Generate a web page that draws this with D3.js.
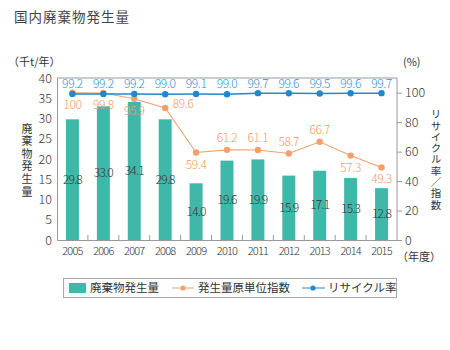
<!DOCTYPE html>
<html><head><meta charset="utf-8">
<script src="https://cdn.jsdelivr.net/npm/d3@7"></script>
<style>body{margin:0;background:#fff}svg{display:block}text{font-family:"Noto Sans CJK JP","Noto Sans",sans-serif}
.vt{writing-mode:vertical-rl;text-orientation:upright}</style>
</head><body>
<script>
const years = ["2005","2006","2007","2008","2009","2010","2011","2012","2013","2014","2015"];
const waste = [29.8,33.0,34.1,29.8,14.0,19.6,19.9,15.9,17.1,15.3,12.8];
const indexVals = [100,99.8,95.9,89.6,59.4,61.2,61.1,58.7,66.7,57.3,49.3];
const recycle = [99.2,99.2,99.2,99.0,99.1,99.0,99.7,99.6,99.5,99.6,99.7];
const leftTicks = [0,5,10,15,20,25,30,35,40];
const rightTicks = [0,20,40,60,80,100];
// label placement for index: "b" below, "a" above, "r" right
const indexPos = ["b","b","b","r","b","a","a","a","a","b","b"];

const W=450,H=350;
const svg=d3.select("body").append("svg").attr("width",W).attr("height",H);
const L=57,R=397,T=78,B=240;
const x=d3.scaleBand().domain(years).range([L,R]).paddingInner(0.58).paddingOuter(0.29);
const yL=d3.scaleLinear().domain([0,40]).range([B,T]);
const yR=d3.scaleLinear().domain([0,110]).range([B,T]);
const cx=d=>x(d)+x.bandwidth()/2;
const axisCol="#999", txtCol="#333";
const teal="#40b8a9", orange="#f4a06c", blue="#1e88d2";
const numFont="'Open Sans',sans-serif";

svg.append("text").attr("x",14).attr("y",22).attr("font-size",13.5).attr("fill","#444").attr("letter-spacing",1).text("国内廃棄物発生量");

// frame
svg.append("line").attr("x1",L).attr("x2",R).attr("y1",T).attr("y2",T).attr("stroke",axisCol);
// bars
svg.selectAll("rect.bar").data(years).join("rect").attr("class","bar")
  .attr("x",d=>x(d)).attr("width",x.bandwidth())
  .attr("y",(d,i)=>yL(waste[i])).attr("height",(d,i)=>B-yL(waste[i])).attr("fill",teal);
// bar labels
svg.selectAll("text.bl").data(years).join("text").attr("class","bl")
  .attr("x",d=>cx(d)).attr("y",(d,i)=>(yL(waste[i])+B)/2+4).attr("text-anchor","middle")
  .attr("font-size",12).attr("fill","#333").attr("letter-spacing",-0.8).attr("font-family",numFont).attr("font-weight",300)
  .text((d,i)=>waste[i].toFixed(1));

// left axis
const ax=svg.append("g").attr("transform",`translate(${L},0)`).call(d3.axisLeft(yL).tickValues(leftTicks).tickSize(0).tickPadding(5));
ax.select(".domain").attr("stroke",axisCol);
ax.selectAll("text").attr("font-size",12.5).attr("fill",txtCol).attr("font-family",numFont).attr("font-weight",300);
// right axis
const ar=svg.append("g").attr("transform",`translate(${R},0)`).call(d3.axisRight(yR).tickValues(rightTicks).tickSize(5).tickPadding(3));
ar.select(".domain").attr("stroke",axisCol).attr("d",`M0,${B}V${T}`);
ar.selectAll(".tick line").attr("stroke",axisCol);
ar.selectAll("text").attr("font-size",12.5).attr("fill",txtCol).attr("font-family",numFont).attr("font-weight",300);
// x axis
const axb=svg.append("g").attr("transform",`translate(0,${B})`).call(d3.axisBottom(x).tickSize(0).tickPadding(7));
axb.select(".domain").attr("stroke",axisCol);
axb.selectAll("text").attr("font-size",11).attr("fill",txtCol).attr("letter-spacing",-0.8).attr("font-family",numFont).attr("font-weight",300);
// x separators
const seps=years.slice(1).map((d)=>x(d)-x.step()*x.paddingInner()/2);
svg.selectAll("line.sep").data(seps).join("line").attr("class","sep")
  .attr("x1",d=>d).attr("x2",d=>d).attr("y1",B-5).attr("y2",B).attr("stroke",axisCol);

// index line
const line=(arr)=>d3.line().x((d,i)=>cx(years[i])).y(d=>yR(d))(arr);
svg.append("path").attr("d",line(indexVals)).attr("fill","none").attr("stroke",orange).attr("stroke-width",1.1);
svg.selectAll("circle.io").data(indexVals).join("circle").attr("cx",(d,i)=>cx(years[i])).attr("cy",d=>yR(d)).attr("r",3.2).attr("fill",orange);
// recycle line
svg.append("path").attr("d",line(recycle)).attr("fill","none").attr("stroke",blue).attr("stroke-width",1.5);
svg.selectAll("circle.rc").data(recycle).join("circle").attr("cx",(d,i)=>cx(years[i])).attr("cy",d=>yR(d)).attr("r",3.2).attr("fill",blue);

// recycle labels
svg.selectAll("text.rl").data(recycle).join("text").attr("class","rl")
  .attr("x",(d,i)=>cx(years[i])).attr("y",88).attr("text-anchor","middle")
  .attr("font-size",12).attr("fill","#2b93d8").attr("letter-spacing",-0.4).attr("font-family",numFont).attr("font-weight",300)
  .text(d=>d.toFixed(1));
// index labels
svg.selectAll("text.il").data(indexVals).join("text").attr("class","il")
  .attr("x",(d,i)=>cx(years[i])+(indexPos[i]==="r"?18:0))
  .attr("y",(d,i)=>yR(d)+(indexPos[i]==="b"?16:indexPos[i]==="a"?-8:0))
  .attr("text-anchor","middle")
  .attr("font-size",12).attr("fill","#f39a62").attr("letter-spacing",-0.4).attr("font-family",numFont).attr("font-weight",300)
  .text(d=>d===100?"100":d.toFixed(1));

// unit labels
svg.append("text").attr("x",8).attr("y",66).attr("font-size",11).attr("fill",txtCol).text("（千t/年）");
svg.append("text").attr("x",403).attr("y",66).attr("font-size",11).attr("fill",txtCol).text("(%)");
svg.append("text").attr("x",397).attr("y",261).attr("font-size",11).attr("fill",txtCol).text("（年度）");
// vertical titles
svg.append("text").attr("class","vt").attr("x",27).attr("y",123).attr("font-size",11).attr("letter-spacing",1.6).attr("fill",txtCol).text("廃棄物発生量");
svg.append("text").attr("class","vt").attr("x",436).attr("y",109).attr("font-size",10.5).attr("letter-spacing",0.8).attr("fill",txtCol).text("リサイクル率／指数");

// legend
const lg=svg.append("g");
lg.append("rect").attr("x",63.5).attr("y",278.5).attr("width",333).attr("height",19).attr("fill","#fff").attr("stroke","#aaa");
lg.append("rect").attr("x",69).attr("y",283).attr("width",17).attr("height",10).attr("fill",teal);
lg.append("text").attr("x",90).attr("y",292).attr("font-size",11.5).attr("fill",txtCol).text("廃棄物発生量");
lg.append("line").attr("x1",172).attr("x2",194).attr("y1",288).attr("y2",288).attr("stroke",orange);
lg.append("circle").attr("cx",183).attr("cy",288).attr("r",2.6).attr("fill",orange);
lg.append("text").attr("x",198).attr("y",292).attr("font-size",11.5).attr("fill",txtCol).text("発生量原単位指数");
lg.append("line").attr("x1",302).attr("x2",325).attr("y1",288).attr("y2",288).attr("stroke",blue);
lg.append("circle").attr("cx",313).attr("cy",288).attr("r",2.6).attr("fill",blue);
lg.append("text").attr("x",328).attr("y",292).attr("font-size",11.5).attr("fill",txtCol).text("リサイクル率");
</script>
</body></html>
